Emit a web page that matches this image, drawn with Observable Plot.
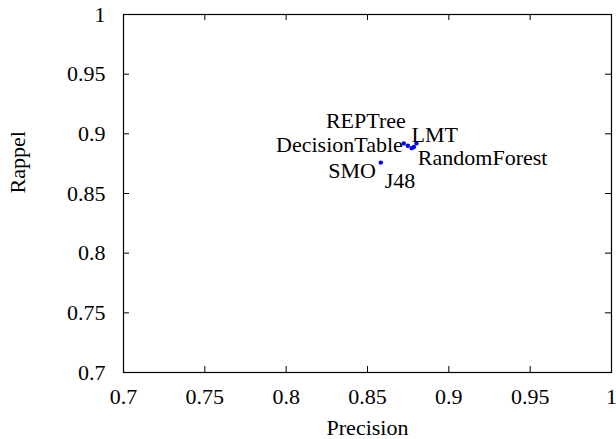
<!DOCTYPE html>
<html>
<head>
<meta charset="utf-8">
<script src="https://cdn.jsdelivr.net/npm/d3@7"></script>
<script src="https://cdn.jsdelivr.net/npm/@observablehq/plot@0.6"></script>
<style>
  html, body { margin: 0; padding: 0; background: #fff; }
</style>
</head>
<body>
<div id="chart"></div>
<script>
// Data
const classifiers = ["REPTree", "DecisionTable", "J48", "RandomForest", "LMT", "SMO"];
const precision   = [0.8723, 0.8748, 0.8772, 0.8785, 0.8801, 0.8582];
const recall      = [0.8920, 0.8900, 0.8880, 0.8890, 0.8920, 0.8759];
const tickValues  = [0.7, 0.75, 0.8, 0.85, 0.9, 0.95, 1];

// Label placement (text anchor and pixel offset from the point)
const labelPlacement = {
  REPTree:       {anchor: "end",   dx: 2,   dy: -22},
  DecisionTable: {anchor: "end",   dx: -5,  dy: -1},
  J48:           {anchor: "start", dx: -27, dy: 33},
  RandomForest:  {anchor: "start", dx: 4,   dy: 11},
  LMT:           {anchor: "start", dx: -5,  dy: -8},
  SMO:           {anchor: "end",   dx: -5,  dy: 8}
};

const data = classifiers.map((name, i) => ({name, precision: precision[i], recall: recall[i]}));

const W = 616, H = 439;
const mL = 123, mR = 5, mT = 14, mB = 67;
const innerH = H - mT - mB;
const innerW = W - mL - mR;
const tickLen = 6;

const labelMarks = data.map(d => {
  const p = labelPlacement[d.name];
  return Plot.text([d], {
    x: "precision", y: "recall", text: "name",
    textAnchor: p.anchor, dx: p.dx, dy: p.dy,
    fill: "#000"
  });
});

const chart = Plot.plot({
  width: W,
  height: H,
  marginLeft: mL,
  marginRight: mR,
  marginTop: mT,
  marginBottom: mB,
  style: {fontFamily: "'Liberation Serif', 'Times New Roman', serif", fontSize: "22px", background: "#fff", color: "#000"},
  x: {domain: [0.7, 1]},
  y: {domain: [0.7, 1]},
  marks: [
    // inward ticks, mirrored on all four sides
    Plot.tickX(tickValues, {x: d => d, insetTop: innerH - tickLen, stroke: "#000"}),
    Plot.tickX(tickValues, {x: d => d, insetBottom: innerH - tickLen, stroke: "#000"}),
    Plot.tickY(tickValues, {y: d => d, insetRight: innerW - tickLen, stroke: "#000"}),
    Plot.tickY(tickValues, {y: d => d, insetLeft: innerW - tickLen, stroke: "#000"}),
    Plot.axisX({ticks: tickValues, tickSize: 0, tickPadding: 16, tickFormat: d3.format("~g"), label: null}),
    Plot.axisY({ticks: tickValues, tickSize: 0, tickPadding: 18, tickFormat: d3.format("~g"), label: null}),
    Plot.frame({stroke: "#000", strokeWidth: 1.2}),
    Plot.dot(data, {x: "precision", y: "recall", r: 2.2, fill: "#0000ff", stroke: null}),
    ...labelMarks,
    Plot.text(["Precision"], {frameAnchor: "bottom", text: d => d, dy: 62, fill: "#000"}),
    Plot.text(["Rappel"], {frameAnchor: "left", text: d => d, rotate: -90, dx: -106, fill: "#000"})
  ]
});

document.getElementById("chart").appendChild(chart);
</script>
</body>
</html>
